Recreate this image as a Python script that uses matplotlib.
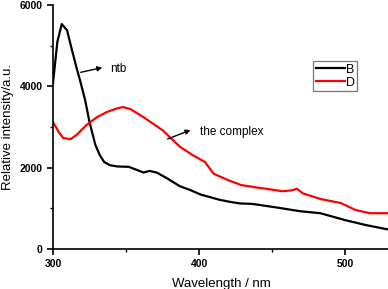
import matplotlib
matplotlib.use("Agg")
import matplotlib.pyplot as plt
from matplotlib.ticker import MultipleLocator

plt.rcParams['font.family'] = ['Liberation Sans', 'DejaVu Sans']

wl_B = [300, 303, 306, 309.6, 313, 316, 318.5, 322, 325, 329, 332, 335, 339, 344, 352, 357,
        362, 366, 371, 378, 387, 394, 401, 408, 414, 421, 428, 436, 442, 455, 469, 483,
        500, 514, 528, 530]
int_B = [4080, 5100, 5530, 5380, 4890, 4470, 4150, 3660, 3120, 2560, 2310, 2140, 2060, 2030,
         2020, 1950, 1880, 1920, 1880, 1740, 1540, 1450, 1340, 1270, 1210, 1160, 1120, 1110,
         1080, 1010, 930, 880, 710, 590, 490, 480]

wl_D = [300, 304, 307, 312, 316, 323, 330, 337, 344, 348, 353, 362, 375, 387, 396, 404, 410,
        420, 429, 440, 448, 457, 463, 467, 471, 483, 497, 507, 517, 528, 530]
int_D = [3120, 2870, 2730, 2700, 2800, 3050, 3240, 3370, 3460, 3490, 3440, 3240, 2920, 2510,
         2300, 2140, 1850, 1690, 1570, 1510, 1470, 1420, 1440, 1480, 1370, 1230, 1130, 960,
         880, 880, 880]

series_labels = ["B", "D"]
x_ticks = [300, 400, 500]
y_ticks = [0, 2000, 4000, 6000]

fig = plt.figure(figsize=(3.88, 2.89), dpi=100)
ax = fig.add_axes([53/388, 40/289, 336/388, 244/289])

ax.plot(wl_B, int_B, color='black', lw=1.6, label=series_labels[0])
ax.plot(wl_D, int_D, color='#ff0000', lw=1.6, label=series_labels[1])

ax.set_xlim(300, 530)
ax.set_ylim(0, 6000)
ax.set_xticks(x_ticks)
ax.set_yticks(y_ticks)
ax.xaxis.set_minor_locator(MultipleLocator(50))
ax.yaxis.set_minor_locator(MultipleLocator(1000))
ax.tick_params(which='major', direction='out', length=4, width=1.2, labelsize=7.5)
ax.tick_params(which='minor', direction='out', length=2.5, width=1.0)
for lbl in ax.get_xticklabels() + ax.get_yticklabels():
    lbl.set_fontweight('bold')
for s in ['top', 'right']:
    ax.spines[s].set_visible(False)
for s in ['left', 'bottom']:
    ax.spines[s].set_linewidth(1.2)

ax.set_xlabel('Wavelength / nm', fontsize=9.5, labelpad=6)
ax.set_ylabel('Relative intensity/a.u.', fontsize=9.5, labelpad=4)

leg = ax.legend(loc='upper left', bbox_to_anchor=(0.775, 0.77), fontsize=9,
                frameon=True, fancybox=False, handlelength=2.3, handletextpad=0.1,
                borderpad=0.2, labelspacing=0.1, borderaxespad=0)
leg.get_frame().set_edgecolor('#555555')
leg.get_frame().set_linewidth(0.9)

ax.annotate('', xy=(335.6, 4475), xytext=(317.1, 4330),
            arrowprops=dict(arrowstyle='-|>', color='black', lw=1.0, mutation_scale=7))
ax.text(339, 4425, 'ntb', fontsize=8.5, va='center', ha='left')
ax.annotate('', xy=(395.9, 2950), xytext=(376.7, 2680),
            arrowprops=dict(arrowstyle='-|>', color='black', lw=1.0, mutation_scale=7))
ax.text(400.7, 2877, 'the complex', fontsize=8.5, va='center', ha='left')

fig.savefig('out.png', dpi=100)
